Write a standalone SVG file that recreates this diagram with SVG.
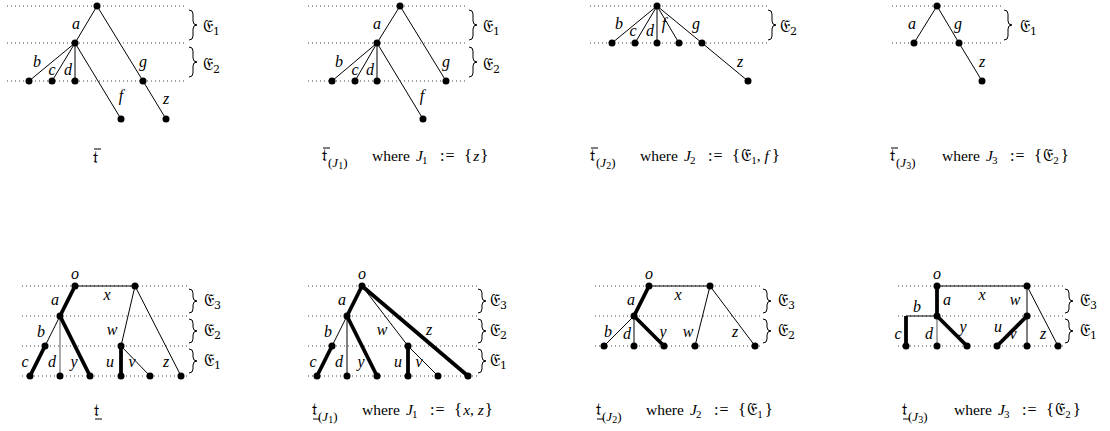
<svg xmlns="http://www.w3.org/2000/svg" width="1110" height="431" viewBox="0 0 1110 431">
<style>
.grid{stroke:#444;stroke-width:1;stroke-dasharray:1 3;fill:none}
.thin{stroke:#000;stroke-width:1;fill:none}
.gray{stroke:#555}
.thick{stroke:#000;stroke-width:3.8;fill:none;stroke-linecap:round}
.br{stroke:#000;stroke-width:1;fill:none}
.dot{fill:#000}
.lbl{font-family:"Liberation Serif","DejaVu Serif",serif;font-style:italic;font-size:16px;text-anchor:middle}
.frak{font-family:"DejaVu Serif","Noto Sans",serif;font-size:17px;font-style:normal}
.cf{font-family:"DejaVu Serif","Noto Sans",serif;font-size:17px;font-style:normal}
.ft{font-family:"DejaVu Serif","Noto Sans",serif;font-size:17px}
.cap{font-family:"Liberation Serif","DejaVu Serif",serif;font-size:15.5px}
.it{font-style:italic}
.sub{font-size:11px;font-style:normal}
.s12{font-size:13px}
.s9{font-size:10px;font-style:normal}
.eq{font-size:16px;letter-spacing:1px}
.bc{font-size:17px}
</style>
<defs>
<circle id="n" r="3.5" class="dot"/>
</defs>
<rect width="1110" height="431" fill="#fff"/>

<!-- Panel 1 -->
<g id="p1">
<g id="p1-grid">
<line class="grid" x1="7" y1="6" x2="187" y2="6"/>
<line class="grid" x1="7" y1="43" x2="187" y2="43"/>
<line class="grid" x1="7" y1="81" x2="187" y2="81"/>
</g>
<g id="p1-edges">
<line class="thin" x1="97" y1="6" x2="75" y2="43"/>
<line class="thin" x1="97" y1="6" x2="143" y2="81"/>
<line class="thin" x1="143" y1="81" x2="166" y2="119"/>
<line class="thin" x1="75" y1="43" x2="29" y2="81"/>
<line class="thin" x1="75" y1="43" x2="52" y2="81"/>
<line class="thin" x1="75" y1="43" x2="75" y2="81"/>
<line class="thin" x1="75" y1="43" x2="121" y2="119"/>
</g>
<g id="p1-nodes">
<use href="#n" x="97" y="6"/><use href="#n" x="75" y="43"/><use href="#n" x="29" y="81"/><use href="#n" x="52" y="81"/><use href="#n" x="75" y="81"/><use href="#n" x="143" y="81"/><use href="#n" x="121" y="119"/><use href="#n" x="166" y="119"/>
</g>
<g id="p1-labels">
<text class="lbl" x="76" y="29">a</text>
<text class="lbl" x="37" y="67">b</text>
<text class="lbl" x="52" y="75">c</text>
<text class="lbl" x="68" y="75">d</text>
<text class="lbl" x="143" y="67">g</text>
<text class="lbl" x="121" y="101">f</text>
<text class="lbl" x="166" y="104">z</text>
</g>
<path class="br" d="M189 10 q4 0 4 4 L193 21 q0 4 4 4 q-4 0 -4 4 L193 36 q0 4 -4 4"/>
<path class="br" d="M189 47 q4 0 4 4 L193 58 q0 4 4 4 q-4 0 -4 4 L193 73 q0 4 -4 4"/>
<text class="frak" x="203" y="32">𝔈<tspan class="sub" dy="3">1</tspan></text>
<text class="frak" x="203" y="70">𝔈<tspan class="sub" dy="3">2</tspan></text>
<text class="ft" x="93" y="163">𝔱</text>
<line class="thin" x1="94" y1="149" x2="101" y2="149"/>
</g>

<!-- Panel 2 -->
<g id="p2">
<g id="p2-grid">
<line class="grid" x1="308" y1="6" x2="465" y2="6"/>
<line class="grid" x1="308" y1="43" x2="465" y2="43"/>
<line class="grid" x1="308" y1="81" x2="465" y2="81"/>
</g>
<g id="p2-edges">
<line class="thin" x1="400" y1="6" x2="377" y2="43"/>
<line class="thin" x1="400" y1="6" x2="446" y2="81"/>
<line class="thin" x1="377" y1="43" x2="332" y2="81"/>
<line class="thin" x1="377" y1="43" x2="355" y2="81"/>
<line class="thin" x1="377" y1="43" x2="377" y2="81"/>
<line class="thin" x1="377" y1="43" x2="423" y2="119"/>
</g>
<g id="p2-nodes">
<use href="#n" x="400" y="6"/><use href="#n" x="377" y="43"/><use href="#n" x="332" y="81"/><use href="#n" x="355" y="81"/><use href="#n" x="377" y="81"/><use href="#n" x="446" y="81"/><use href="#n" x="423" y="119"/>
</g>
<g id="p2-labels">
<text class="lbl" x="377" y="29">a</text>
<text class="lbl" x="339" y="67">b</text>
<text class="lbl" x="355" y="75">c</text>
<text class="lbl" x="370" y="75">d</text>
<text class="lbl" x="446" y="67">g</text>
<text class="lbl" x="422" y="101">f</text>
</g>
<path class="br" d="M469 10 q4 0 4 4 L473 21 q0 4 4 4 q-4 0 -4 4 L473 36 q0 4 -4 4"/>
<path class="br" d="M469 47 q4 0 4 4 L473 58 q0 4 4 4 q-4 0 -4 4 L473 73 q0 4 -4 4"/>
<text class="frak" x="483" y="32">𝔈<tspan class="sub" dy="3">1</tspan></text>
<text class="frak" x="483" y="70">𝔈<tspan class="sub" dy="3">2</tspan></text>
<text class="cap" x="322" y="161"><tspan class="ft">𝔱</tspan><tspan class="s12" dx="1" dy="6">(</tspan><tspan class="s12 it">J</tspan><tspan class="s9" dy="2">1</tspan><tspan class="s12" dy="-2">)</tspan><tspan x="372" y="161">where</tspan><tspan class="it" x="416">J</tspan><tspan class="sub" dx="-1" dy="3">1</tspan><tspan class="eq" x="440" y="161">:=</tspan><tspan class="bc" x="464">{</tspan><tspan class="it" dx="1">z</tspan><tspan class="bc" dx="1">}</tspan></text>
<line class="thin" x1="323" y1="148" x2="330" y2="148"/>
</g>

<!-- Panel 3 -->
<g id="p3">
<g id="p3-grid">
<line class="grid" x1="590" y1="6" x2="767" y2="6"/>
<line class="grid" x1="590" y1="43" x2="767" y2="43"/>
</g>
<g id="p3-edges">
<line class="thin" x1="657" y1="6" x2="612" y2="43"/>
<line class="thin" x1="657" y1="6" x2="635" y2="43"/>
<line class="thin" x1="657" y1="6" x2="657" y2="43"/>
<line class="thin" x1="657" y1="6" x2="679" y2="43"/>
<line class="thin" x1="657" y1="6" x2="702" y2="43"/>
<line class="thin" x1="702" y1="43" x2="748" y2="81"/>
</g>
<g id="p3-nodes">
<use href="#n" x="657" y="6"/><use href="#n" x="612" y="43"/><use href="#n" x="635" y="43"/><use href="#n" x="657" y="43"/><use href="#n" x="679" y="43"/><use href="#n" x="702" y="43"/><use href="#n" x="748" y="81"/>
</g>
<g id="p3-labels">
<text class="lbl" x="619" y="29">b</text>
<text class="lbl" x="633" y="36">c</text>
<text class="lbl" x="650" y="36">d</text>
<text class="lbl" x="664" y="29">f</text>
<text class="lbl" x="696" y="29">g</text>
<text class="lbl" x="740" y="67">z</text>
</g>
<path class="br" d="M768 10 q4 0 4 4 L772 21 q0 4 4 4 q-4 0 -4 4 L772 36 q0 4 -4 4"/>
<text class="frak" x="780" y="32">𝔈<tspan class="sub" dy="3">2</tspan></text>
<text class="cap" x="590" y="161"><tspan class="ft">𝔱</tspan><tspan class="s12" dx="1" dy="6">(</tspan><tspan class="s12 it">J</tspan><tspan class="s9" dy="2">2</tspan><tspan class="s12" dy="-2">)</tspan><tspan x="640" y="161">where</tspan><tspan class="it" x="684">J</tspan><tspan class="sub" dx="-1" dy="3">2</tspan><tspan class="eq" x="708" y="161">:=</tspan><tspan class="bc" x="732">{</tspan><tspan class="cf" dx="1">𝔈</tspan><tspan class="sub" dy="3">1</tspan><tspan dy="-3">, </tspan><tspan class="it">f</tspan><tspan class="bc" dx="3">}</tspan></text>
<line class="thin" x1="591" y1="148" x2="598" y2="148"/>
</g>

<!-- Panel 4 -->
<g id="p4">
<g id="p4-grid">
<line class="grid" x1="892" y1="6" x2="1002" y2="6"/>
<line class="grid" x1="892" y1="43" x2="1002" y2="43"/>
</g>
<g id="p4-edges">
<line class="thin" x1="937" y1="6" x2="914" y2="43"/>
<line class="thin" x1="937" y1="6" x2="959" y2="43"/>
<line class="thin" x1="959" y1="43" x2="982" y2="81"/>
</g>
<g id="p4-nodes">
<use href="#n" x="937" y="6"/><use href="#n" x="914" y="43"/><use href="#n" x="959" y="43"/><use href="#n" x="982" y="81"/>
</g>
<g id="p4-labels">
<text class="lbl" x="912" y="29">a</text>
<text class="lbl" x="958" y="29">g</text>
<text class="lbl" x="982" y="67">z</text>
</g>
<path class="br" d="M1004 10 q4 0 4 4 L1008 21 q0 4 4 4 q-4 0 -4 4 L1008 36 q0 4 -4 4"/>
<text class="frak" x="1020" y="32">𝔈<tspan class="sub" dy="3">1</tspan></text>
<text class="cap" x="890" y="161"><tspan class="ft">𝔱</tspan><tspan class="s12" dx="1" dy="6">(</tspan><tspan class="s12 it">J</tspan><tspan class="s9" dy="2">3</tspan><tspan class="s12" dy="-2">)</tspan><tspan x="942" y="161">where</tspan><tspan class="it" x="986">J</tspan><tspan class="sub" dx="-1" dy="3">3</tspan><tspan class="eq" x="1010" y="161">:=</tspan><tspan class="bc" x="1034">{</tspan><tspan class="cf" dx="1">𝔈</tspan><tspan class="sub" dy="3">2</tspan><tspan class="bc" dx="2" dy="-3">}</tspan></text>
<line class="thin" x1="891" y1="148" x2="898" y2="148"/>
</g>

<!-- Panel 5 -->
<g id="p5">
<g id="p5-grid">
<line class="grid" x1="22" y1="286" x2="187" y2="286"/>
<line class="grid" x1="22" y1="316" x2="187" y2="316"/>
<line class="grid" x1="22" y1="346" x2="187" y2="346"/>
<line class="grid" x1="22" y1="376" x2="187" y2="376"/>
</g>
<g id="p5-edges">
<line class="thin" x1="75" y1="286" x2="135" y2="286"/>
<line class="thick" x1="75" y1="286" x2="60" y2="316"/>
<line class="thin" x1="60" y1="316" x2="45" y2="346"/>
<line class="thick" x1="45" y1="346" x2="30" y2="376"/>
<line class="thin gray" x1="60" y1="316" x2="60" y2="376"/>
<line class="thick" x1="60" y1="316" x2="90" y2="376"/>
<line class="thin" x1="135" y1="286" x2="121" y2="346"/>
<line class="thick" x1="121" y1="346" x2="121" y2="376"/>
<line class="thin" x1="121" y1="346" x2="150" y2="376"/>
<line class="thin" x1="135" y1="286" x2="181" y2="376"/>
</g>
<g id="p5-nodes">
<use href="#n" x="75" y="286"/><use href="#n" x="135" y="286"/><use href="#n" x="60" y="316"/><use href="#n" x="45" y="346"/><use href="#n" x="121" y="346"/><use href="#n" x="30" y="376"/><use href="#n" x="60" y="376"/><use href="#n" x="90" y="376"/><use href="#n" x="121" y="376"/><use href="#n" x="150" y="376"/><use href="#n" x="181" y="376"/>
</g>
<g id="p5-labels">
<text class="lbl" x="75" y="279">o</text>
<text class="lbl" x="107" y="300">x</text>
<text class="lbl" x="55" y="305">a</text>
<text class="lbl" x="41" y="337">b</text>
<text class="lbl" x="25" y="367">c</text>
<text class="lbl" x="52" y="367">d</text>
<text class="lbl" x="74" y="367">y</text>
<text class="lbl" x="112" y="335">w</text>
<text class="lbl" x="110" y="367">u</text>
<text class="lbl" x="132" y="367">v</text>
<text class="lbl" x="166" y="367">z</text>
</g>
<path class="br" d="M189 289 q4 0 4 4 L193 297 q0 4 4 4 q-4 0 -4 4 L193 309 q0 4 -4 4"/>
<path class="br" d="M189 319 q4 0 4 4 L193 327 q0 4 4 4 q-4 0 -4 4 L193 339 q0 4 -4 4"/>
<path class="br" d="M189 349 q4 0 4 4 L193 357 q0 4 4 4 q-4 0 -4 4 L193 369 q0 4 -4 4"/>
<text class="frak" x="204" y="306">𝔈<tspan class="sub" dy="3">3</tspan></text>
<text class="frak" x="204" y="336">𝔈<tspan class="sub" dy="3">2</tspan></text>
<text class="frak" x="204" y="366">𝔈<tspan class="sub" dy="3">1</tspan></text>
<text class="ft" x="94" y="416">𝔱</text>
<line class="thin" x1="95" y1="419" x2="102" y2="419"/>
</g>

<!-- Panel 6 -->
<g id="p6">
<g id="p6-grid">
<line class="grid" x1="308" y1="286" x2="477" y2="286"/>
<line class="grid" x1="308" y1="316" x2="477" y2="316"/>
<line class="grid" x1="308" y1="346" x2="477" y2="346"/>
<line class="grid" x1="308" y1="376" x2="477" y2="376"/>
</g>
<g id="p6-edges">
<line class="thick" x1="362" y1="286" x2="347" y2="316"/>
<line class="thin" x1="347" y1="316" x2="332" y2="346"/>
<line class="thick" x1="332" y1="346" x2="317" y2="376"/>
<line class="thin" x1="347" y1="316" x2="347" y2="376"/>
<line class="thick" x1="347" y1="316" x2="377" y2="376"/>
<line class="thin" x1="362" y1="286" x2="408" y2="346"/>
<line class="thick" x1="408" y1="346" x2="408" y2="376"/>
<line class="thin" x1="408" y1="346" x2="438" y2="376"/>
<line class="thick" x1="362" y1="286" x2="468" y2="376"/>
</g>
<g id="p6-nodes">
<use href="#n" x="362" y="286"/><use href="#n" x="347" y="316"/><use href="#n" x="332" y="346"/><use href="#n" x="408" y="346"/><use href="#n" x="317" y="376"/><use href="#n" x="347" y="376"/><use href="#n" x="377" y="376"/><use href="#n" x="408" y="376"/><use href="#n" x="438" y="376"/><use href="#n" x="468" y="376"/>
</g>
<g id="p6-labels">
<text class="lbl" x="362" y="279">o</text>
<text class="lbl" x="342" y="305">a</text>
<text class="lbl" x="328" y="337">b</text>
<text class="lbl" x="313" y="367">c</text>
<text class="lbl" x="339" y="367">d</text>
<text class="lbl" x="361" y="367">y</text>
<text class="lbl" x="382" y="335">w</text>
<text class="lbl" x="429" y="335">z</text>
<text class="lbl" x="398" y="367">u</text>
<text class="lbl" x="419" y="367">v</text>
</g>
<path class="br" d="M478 289 q4 0 4 4 L482 297 q0 4 4 4 q-4 0 -4 4 L482 309 q0 4 -4 4"/>
<path class="br" d="M478 319 q4 0 4 4 L482 327 q0 4 4 4 q-4 0 -4 4 L482 339 q0 4 -4 4"/>
<path class="br" d="M478 349 q4 0 4 4 L482 357 q0 4 4 4 q-4 0 -4 4 L482 369 q0 4 -4 4"/>
<text class="frak" x="490" y="306">𝔈<tspan class="sub" dy="3">3</tspan></text>
<text class="frak" x="490" y="336">𝔈<tspan class="sub" dy="3">2</tspan></text>
<text class="frak" x="490" y="366">𝔈<tspan class="sub" dy="3">1</tspan></text>
<text class="cap" x="312" y="415"><tspan class="ft">𝔱</tspan><tspan class="s12" dx="1" dy="6">(</tspan><tspan class="s12 it">J</tspan><tspan class="s9" dy="2">1</tspan><tspan class="s12" dy="-2">)</tspan><tspan x="362" y="415">where</tspan><tspan class="it" x="406">J</tspan><tspan class="sub" dx="-1" dy="3">1</tspan><tspan class="eq" x="430" y="415">:=</tspan><tspan class="bc" x="454">{</tspan><tspan class="it" dx="1">x</tspan>, <tspan class="it">z</tspan><tspan class="bc" dx="1">}</tspan></text>
<line class="thin" x1="313" y1="419" x2="320" y2="419"/>
</g>

<!-- Panel 7 -->
<g id="p7">
<g id="p7-grid">
<line class="grid" x1="595" y1="286" x2="763" y2="286"/>
<line class="grid" x1="595" y1="316" x2="763" y2="316"/>
<line class="grid" x1="595" y1="346" x2="763" y2="346"/>
</g>
<g id="p7-edges">
<line class="thin" x1="649" y1="286" x2="710" y2="286"/>
<line class="thick" x1="649" y1="286" x2="634" y2="316"/>
<line class="thin" x1="634" y1="316" x2="604" y2="346"/>
<line class="thin" x1="634" y1="316" x2="634" y2="346"/>
<line class="thick" x1="634" y1="316" x2="664" y2="346"/>
<line class="thin" x1="710" y1="286" x2="695" y2="346"/>
<line class="thin" x1="710" y1="286" x2="755" y2="346"/>
</g>
<g id="p7-nodes">
<use href="#n" x="649" y="286"/><use href="#n" x="710" y="286"/><use href="#n" x="634" y="316"/><use href="#n" x="604" y="346"/><use href="#n" x="634" y="346"/><use href="#n" x="664" y="346"/><use href="#n" x="695" y="346"/><use href="#n" x="755" y="346"/>
</g>
<g id="p7-labels">
<text class="lbl" x="649" y="279">o</text>
<text class="lbl" x="678" y="300">x</text>
<text class="lbl" x="631" y="305">a</text>
<text class="lbl" x="608" y="337">b</text>
<text class="lbl" x="627" y="339">d</text>
<text class="lbl" x="663" y="337">y</text>
<text class="lbl" x="688" y="337">w</text>
<text class="lbl" x="735" y="337">z</text>
</g>
<path class="br" d="M763 289 q4 0 4 4 L767 297 q0 4 4 4 q-4 0 -4 4 L767 309 q0 4 -4 4"/>
<path class="br" d="M763 319 q4 0 4 4 L767 327 q0 4 4 4 q-4 0 -4 4 L767 339 q0 4 -4 4"/>
<text class="frak" x="778" y="306">𝔈<tspan class="sub" dy="3">3</tspan></text>
<text class="frak" x="778" y="336">𝔈<tspan class="sub" dy="3">2</tspan></text>
<text class="cap" x="596" y="415"><tspan class="ft">𝔱</tspan><tspan class="s12" dx="1" dy="6">(</tspan><tspan class="s12 it">J</tspan><tspan class="s9" dy="2">2</tspan><tspan class="s12" dy="-2">)</tspan><tspan x="646" y="415">where</tspan><tspan class="it" x="690">J</tspan><tspan class="sub" dx="-1" dy="3">2</tspan><tspan class="eq" x="714" y="415">:=</tspan><tspan class="bc" x="738">{</tspan><tspan class="cf" dx="1">𝔈</tspan><tspan class="sub" dy="3">1</tspan><tspan class="bc" dx="2" dy="-3">}</tspan></text>
<line class="thin" x1="597" y1="419" x2="604" y2="419"/>
</g>

<!-- Panel 8 -->
<g id="p8">
<g id="p8-grid">
<line class="grid" x1="898" y1="286" x2="1065" y2="286"/>
<line class="grid" x1="898" y1="316" x2="1065" y2="316"/>
<line class="grid" x1="898" y1="346" x2="1065" y2="346"/>
</g>
<g id="p8-edges">
<line class="thin" x1="937" y1="286" x2="1027" y2="286"/>
<line class="thick" x1="937" y1="286" x2="937" y2="316"/>
<line class="thin" x1="937" y1="316" x2="906" y2="316"/>
<line class="thick" x1="906" y1="316" x2="906" y2="346" style="stroke-linecap:butt"/>
<line class="thin gray" x1="937" y1="316" x2="937" y2="346"/>
<line class="thick" x1="937" y1="316" x2="967" y2="346"/>
<line class="thin" x1="1027" y1="286" x2="1027" y2="316"/>
<line class="thick" x1="1027" y1="316" x2="997" y2="346"/>
<line class="thin" x1="1027" y1="316" x2="1027" y2="346"/>
<line class="thin" x1="1027" y1="286" x2="1058" y2="346"/>
</g>
<g id="p8-nodes">
<use href="#n" x="937" y="286"/><use href="#n" x="1027" y="286"/><use href="#n" x="937" y="316"/><use href="#n" x="1027" y="316"/><use href="#n" x="906" y="346"/><use href="#n" x="937" y="346"/><use href="#n" x="967" y="346"/><use href="#n" x="997" y="346"/><use href="#n" x="1027" y="346"/><use href="#n" x="1058" y="346"/>
</g>
<g id="p8-labels">
<text class="lbl" x="937" y="279">o</text>
<text class="lbl" x="982" y="300">x</text>
<text class="lbl" x="947" y="305">a</text>
<text class="lbl" x="917" y="312">b</text>
<text class="lbl" x="898" y="339">c</text>
<text class="lbl" x="929" y="339">d</text>
<text class="lbl" x="963" y="332">y</text>
<text class="lbl" x="1015" y="305">w</text>
<text class="lbl" x="998" y="332">u</text>
<text class="lbl" x="1013" y="339">v</text>
<text class="lbl" x="1043" y="339">z</text>
</g>
<path class="br" d="M1065 289 q4 0 4 4 L1069 297 q0 4 4 4 q-4 0 -4 4 L1069 309 q0 4 -4 4"/>
<path class="br" d="M1065 319 q4 0 4 4 L1069 327 q0 4 4 4 q-4 0 -4 4 L1069 339 q0 4 -4 4"/>
<text class="frak" x="1080" y="306">𝔈<tspan class="sub" dy="3">3</tspan></text>
<text class="frak" x="1080" y="336">𝔈<tspan class="sub" dy="3">1</tspan></text>
<text class="cap" x="902" y="415"><tspan class="ft">𝔱</tspan><tspan class="s12" dx="1" dy="6">(</tspan><tspan class="s12 it">J</tspan><tspan class="s9" dy="2">3</tspan><tspan class="s12" dy="-2">)</tspan><tspan x="954" y="415">where</tspan><tspan class="it" x="998">J</tspan><tspan class="sub" dx="-1" dy="3">3</tspan><tspan class="eq" x="1022" y="415">:=</tspan><tspan class="bc" x="1046">{</tspan><tspan class="cf" dx="1">𝔈</tspan><tspan class="sub" dy="3">2</tspan><tspan class="bc" dx="2" dy="-3">}</tspan></text>
<line class="thin" x1="903" y1="419" x2="910" y2="419"/>
</g>
</svg>
